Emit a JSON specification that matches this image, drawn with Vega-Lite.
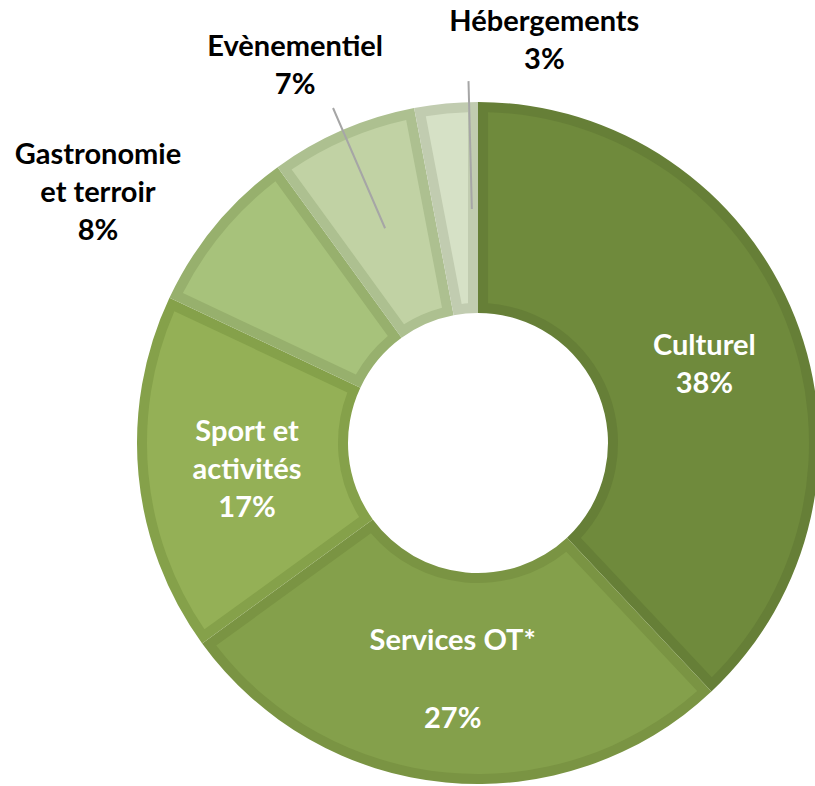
{
  "$schema": "https://vega.github.io/schema/vega-lite/v6.json",
  "width": 670,
  "height": 670,
  "autosize": {"type": "none"},
  "padding": {"left": 143, "top": 108, "right": 2, "bottom": 8},
  "background": "white",
  "config": {
    "view": {"stroke": null},
    "text": {"font": "Lato", "fontWeight": "bold", "fontSize": 29, "lineHeight": 38, "lineBreak": "\n", "align": "center", "baseline": "middle"}
  },
  "data": {
    "values": [
      {"c": "Culturel", "v": 38, "i": 1, "p": "38%", "lab": "Culturel\n38%"},
      {"c": "Services OT*", "v": 27, "i": 2, "p": "27%", "lab": "Services OT*"},
      {"c": "Sport et activités", "v": 17, "i": 3, "p": "17%", "lab": "Sport et\nactivités\n17%"},
      {"c": "Gastronomie et terroir", "v": 8, "i": 4, "p": "8%", "lab": "Gastronomie\net terroir\n8%"},
      {"c": "Evènementiel", "v": 7, "i": 5, "p": "7%", "lab": "Evènementiel\n7%"},
      {"c": "Hébergements", "v": 3, "i": 6, "p": "3%", "lab": "Hébergements\n3%"}
    ]
  },
  "encoding": {
    "theta": {"field": "v", "type": "quantitative", "stack": true},
    "order": {"field": "i", "type": "quantitative"}
  },
  "layer": [
    {
      "mark": {"type": "arc", "outerRadius": 341, "innerRadius": 130},
      "encoding": {
        "fill": {
          "field": "c", "type": "nominal", "legend": null,
          "scale": {
            "domain": ["Culturel", "Services OT*", "Sport et activités", "Gastronomie et terroir", "Evènementiel", "Hébergements"],
            "range": ["#667f37", "#7a9443", "#85a14a", "#97b06d", "#adc090", "#c1ccb0"]
          }
        }
      }
    },
    {
      "mark": {"type": "arc", "outerRadius": 331, "innerRadius": 140, "padAngle": 0.0557},
      "encoding": {
        "color": {
          "field": "c", "type": "nominal", "legend": null,
          "scale": {
            "domain": ["Culturel", "Services OT*", "Sport et activités", "Gastronomie et terroir", "Evènementiel", "Hébergements"],
            "range": ["#6f8a3c", "#84a04b", "#94b056", "#a7c27b", "#c1d2a4", "#d6e1c6"]
          }
        }
      }
    },
    {
      "mark": {"type": "arc", "outerRadius": 365, "innerRadius": 234, "padAngle": 3, "filled": false, "stroke": "#a6a6a6", "strokeWidth": 2},
      "encoding": {
        "strokeOpacity": {"condition": {"test": "datum.i === 5", "value": 1}, "value": 0}
      }
    },
    {
      "mark": {"type": "arc", "outerRadius": 362, "innerRadius": 234, "padAngle": 3, "thetaOffset": 0.068, "theta2Offset": 0.068, "filled": false, "stroke": "#a6a6a6", "strokeWidth": 2},
      "encoding": {
        "strokeOpacity": {"condition": {"test": "datum.i === 6", "value": 1}, "value": 0}
      }
    },
    {
      "mark": {"type": "text", "radius": 237, "dx": 6, "dy": -10, "fill": "white"},
      "encoding": {
        "text": {"field": "lab", "type": "nominal"},
        "opacity": {"condition": {"test": "datum.i === 1", "value": 1}, "value": 0}
      }
    },
    {
      "mark": {"type": "text", "radius": 237, "dx": -3, "dy": -38, "fill": "white"},
      "encoding": {
        "text": {"field": "lab", "type": "nominal"},
        "opacity": {"condition": {"test": "datum.i === 2", "value": 1}, "value": 0}
      }
    },
    {
      "mark": {"type": "text", "radius": 237, "dx": -3, "dy": 40, "fill": "white"},
      "encoding": {
        "text": {"field": "p", "type": "nominal"},
        "opacity": {"condition": {"test": "datum.i === 2", "value": 1}, "value": 0}
      }
    },
    {
      "mark": {"type": "text", "radius": 237, "dx": 5, "dy": -33, "fill": "white"},
      "encoding": {
        "text": {"field": "lab", "type": "nominal"},
        "opacity": {"condition": {"test": "datum.i === 3", "value": 1}, "value": 0}
      }
    },
    {
      "mark": {"type": "text", "radius": 440, "dx": -41, "dy": -8, "fill": "black"},
      "encoding": {
        "text": {"field": "lab", "type": "nominal"},
        "opacity": {"condition": {"test": "datum.i === 4", "value": 1}, "value": 0}
      }
    },
    {
      "mark": {"type": "text", "radius": 410, "dx": -20, "dy": -20, "fill": "black"},
      "encoding": {
        "text": {"field": "lab", "type": "nominal"},
        "opacity": {"condition": {"test": "datum.i === 5", "value": 1}, "value": 0}
      }
    },
    {
      "mark": {"type": "text", "radius": 400, "dx": 104, "dy": -23, "fill": "black"},
      "encoding": {
        "text": {"field": "lab", "type": "nominal"},
        "opacity": {"condition": {"test": "datum.i === 6", "value": 1}, "value": 0}
      }
    }
  ]
}
